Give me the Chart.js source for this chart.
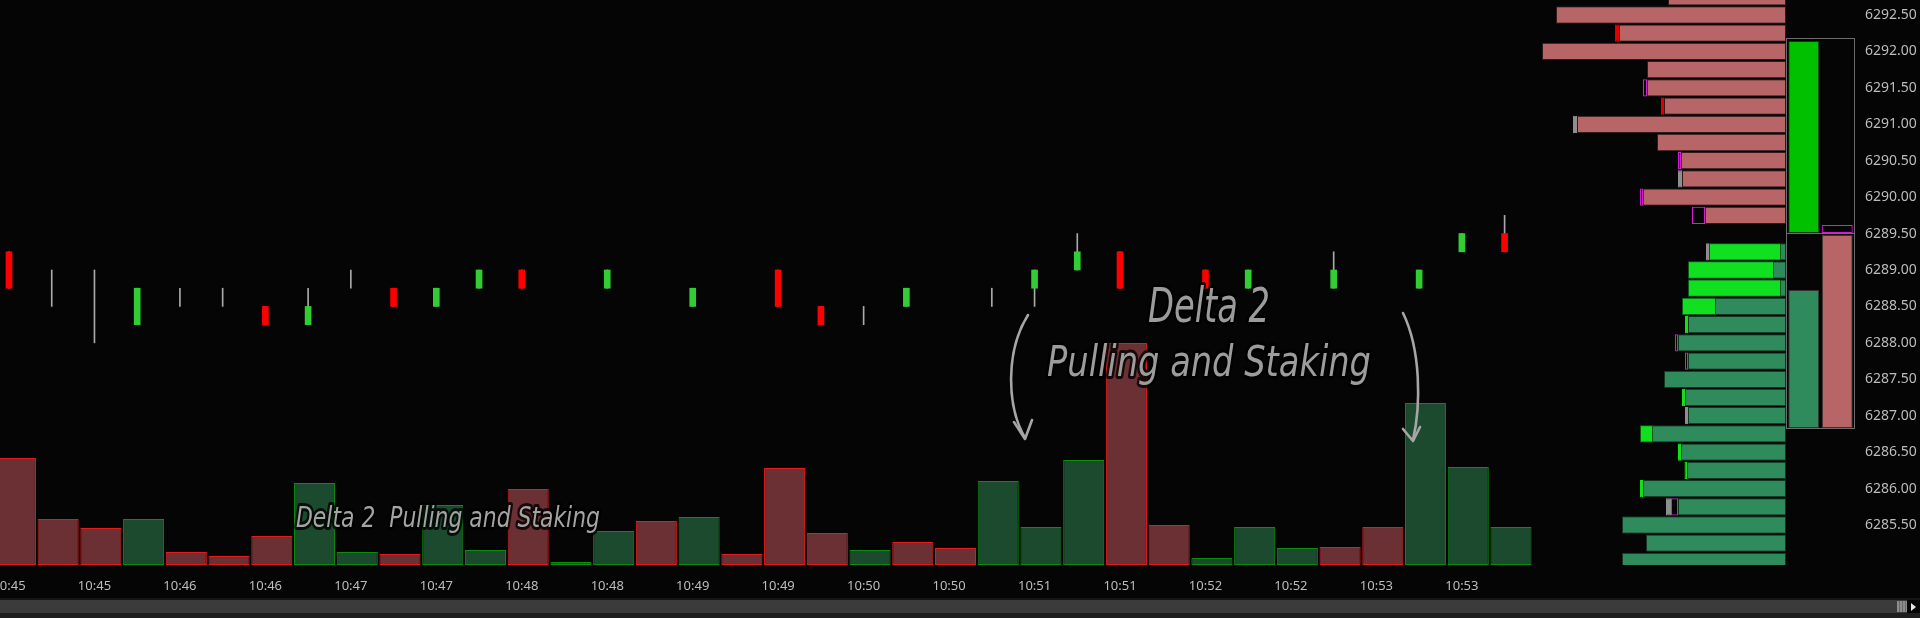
<!DOCTYPE html>
<html>
<head>
<meta charset="utf-8">
<script src="https://cdn.jsdelivr.net/npm/chart.js@4.4.1/dist/chart.umd.min.js"></script>
<style>
  html, body { margin: 0; padding: 0; background: #050505; }
  body { width: 1920px; height: 618px; position: relative; overflow: hidden; }
  canvas, .layer { position: absolute; display: block; }
  #main { left: 0; top: 0; }
  #profile { left: 1500px; top: 0; }
  #boxTop { left: 1787px; top: 39px; }
  #boxBottom { left: 1787px; top: 234px; }
  .note text { font-family: 'DejaVu Sans', sans-serif; font-style: italic; font-weight: 200;
               paint-order: stroke; stroke: rgba(0,0,0,0.8); stroke-width: 6px; stroke-linejoin: round;
               white-space: pre; }
</style>
</head>
<body>
<canvas id="main" width="1920" height="598"></canvas>
<canvas id="profile" width="286" height="565"></canvas>
<canvas id="boxTop" width="67" height="194"></canvas>
<canvas id="boxBottom" width="67" height="194"></canvas>
<div class="layer" style="left:1786px;top:38px;width:69px;height:391px;border:1px solid #6c6c6c;box-sizing:border-box"></div>
<div class="layer" style="left:1786px;top:233px;width:69px;height:1px;background:#6c6c6c"></div>

<svg class="layer" style="left:0;top:0" width="1920" height="618" xmlns="http://www.w3.org/2000/svg">
  <g fill="none" stroke="#a6a6a6" stroke-width="2.6" stroke-linecap="round" stroke-linejoin="round">
    <path d="M1028 315 C1006 350 1006 405 1025 438"/>
    <path d="M1014 422 L1025 439 L1032 420"/>
    <path d="M1403 313 C1421 350 1421 405 1413 440"/>
    <path d="M1403 429 L1413 441 L1420 427"/>
  </g>
  <g class="note">
    <text x="296" y="527" font-size="29" fill="#a4a4a4" textLength="304" lengthAdjust="spacingAndGlyphs">Delta 2  Pulling and Staking</text>
    <text x="1148" y="322" font-size="48" fill="#9c9c9c" textLength="122" lengthAdjust="spacingAndGlyphs">Delta 2</text>
    <text x="1047" y="376" font-size="42" fill="#9c9c9c" textLength="324" lengthAdjust="spacingAndGlyphs">Pulling and Staking</text>
  </g>
</svg>

<!-- horizontal scroll bar -->
<div class="layer" style="left:0;top:598px;width:1920px;height:2px;background:#151515"></div>
<div class="layer" style="left:0;top:600px;width:1920px;height:13px;background:#3b3b3b"></div>
<div class="layer" style="left:0;top:613px;width:1920px;height:5px;background:#1e1e1e"></div>
<div class="layer" style="left:1897px;top:601px;width:10px;height:11px;background:repeating-linear-gradient(90deg,#8c8c8c 0 2px,#666 2px 3px)"></div>
<div class="layer" style="left:1907px;top:600px;width:13px;height:13px;background:#050505"></div>
<div class="layer" style="left:1911px;top:603px;width:0;height:0;border-top:4px solid transparent;border-bottom:4px solid transparent;border-left:5px solid #e6e6e6"></div>

<script>
// bar times (one label every second bar)
var timeLabels = ['10:45', '10:45', '10:46', '10:46', '10:47', '10:47', '10:48', '10:48', '10:49',
                  '10:49', '10:50', '10:50', '10:51', '10:51', '10:52', '10:52', '10:53', '10:53'];
var priceTicks = [6292.50, 6292.00, 6291.50, 6291.00, 6290.50, 6290.00, 6289.50, 6289.00,
                  6288.50, 6288.00, 6287.50, 6287.00, 6286.50, 6286.00, 6285.50];

// candles (null = no candle drawn)
var candleOpen  = [6289.25, 6288.75, 6288.50, 6288.25, 6288.50, 6288.50, 6288.50, 6288.25, 6289.00, 6288.75, 6288.50, 6288.75,
                   6289.00, null, 6288.75, null, 6288.50, null, 6289.00, 6288.50, 6288.50, 6288.50, null, 6288.75,
                   6288.75, 6289.00, 6289.25, null, 6289.00, 6288.75, null, 6288.75, null, 6288.75, 6289.25, 6289.50];
var candleHigh  = [6289.25, 6289.00, 6289.00, 6288.75, 6288.75, 6288.75, 6288.50, 6288.75, 6289.00, 6288.75, 6288.75, 6289.00,
                   6289.00, null, 6289.00, null, 6288.75, null, 6289.00, 6288.50, 6288.50, 6288.75, null, 6288.75,
                   6289.00, 6289.50, 6289.25, null, 6289.00, 6289.00, null, 6289.25, null, 6289.00, 6289.50, 6289.75];
var candleLow   = [6288.75, 6288.50, 6288.00, 6288.25, 6288.50, 6288.50, 6288.25, 6288.25, 6288.75, 6288.50, 6288.50, 6288.75,
                   6288.75, null, 6288.75, null, 6288.50, null, 6288.50, 6288.25, 6288.25, 6288.50, null, 6288.50,
                   6288.50, 6289.00, 6288.75, null, 6288.75, 6288.75, null, 6288.75, null, 6288.75, 6289.25, 6289.25];
var candleClose = [6288.75, 6288.75, 6288.50, 6288.75, 6288.50, 6288.50, 6288.25, 6288.50, 6289.00, 6288.50, 6288.75, 6289.00,
                   6288.75, null, 6289.00, null, 6288.75, null, 6288.50, 6288.25, 6288.50, 6288.75, null, 6288.75,
                   6289.00, 6289.25, 6288.75, null, 6288.75, 6289.00, null, 6289.00, null, 6289.00, 6289.50, 6289.25];

// volume bars under the candles
var volume  = [107, 46, 37, 46, 13, 9, 29, 82, 13, 11, 60, 15, 76, 3, 34, 44, 48, 11,
               97, 32, 15, 23, 17, 84, 38, 105, 222, 40, 7, 38, 17, 18, 38, 162, 98, 38];
var volSide = ['sell', 'sell', 'sell', 'buy', 'sell', 'sell', 'sell', 'buy', 'buy', 'sell', 'buy', 'buy',
               'sell', 'buy', 'buy', 'sell', 'buy', 'sell', 'sell', 'sell', 'buy', 'sell', 'sell', 'buy',
               'buy', 'buy', 'sell', 'sell', 'buy', 'buy', 'buy', 'sell', 'sell', 'buy', 'buy', 'buy'];

// volume profile on the right
var profilePrice = [6292.75, 6292.50, 6292.25, 6292.00, 6291.75, 6291.50, 6291.25, 6291.00, 6290.75, 6290.50, 6290.25,
                    6290.00, 6289.75, 6289.50, 6289.25, 6289.00, 6288.75, 6288.50, 6288.25, 6288.00, 6287.75, 6287.50,
                    6287.25, 6287.00, 6286.75, 6286.50, 6286.25, 6286.00, 6285.75, 6285.50, 6285.25, 6285.00];
var profileTotal = [118, 230, 167, 244, 139, 139, 122, 209, 129, 105, 104, 143, 81, 0, 77, 98,
                    98, 104, 98, 108, 98, 122, 101, 98, 146, 105, 99, 143, 108, 164, 140, 164];
var profileHot   = [0, 0, 0, 0, 0, 0, 0, 0, 0, 0, 0, 0, 0, 0, 72, 86,
                    93, 34, 0, 0, 0, 0, 0, 0, 13, 0, 0, 0, 0, 0, 0, 0];
var markSize     = [0, 0, 4, 0, 0, 4, 3, 4, 0, 3, 4, 3, 13, 0, 3, 0,
                    0, 0, 3, 3, 3, 0, 3, 3, 0, 3, 2.5, 3, 7, 0, 0, 0];
var markKind     = ['', '', 'pull', '', '', 'big', 'pull', 'flat', '', 'big', 'flat', 'big', 'big', '', 'flat', '',
                    '', '', 'stack', 'big', 'big', '', 'stack', 'flat', '', 'stack', 'stack', 'stack', 'big', '', '', ''];
var outerSize    = [0, 0, 0, 0, 0, 0, 0, 0, 0, 0, 0, 0, 0, 0, 0, 0,
                    0, 0, 0, 0, 0, 0, 0, 0, 0, 0, 0, 0, 5, 0, 0, 0];
var outerKind    = ['', '', '', '', '', '', '', '', '', '', '', '', '', '', '', '',
                    '', '', '', '', '', '', '', '', '', '', '', '', 'flat', '', '', ''];
var lastPrice = 6289.50;

// summary columns next to the profile
var boxAbove = [192, 8];
var boxBelow = [138, 193];

// view
var priceMin = 6284.951, priceMax = 6292.706;
var xMin = -0.2106, xMax = 43.2, volShift = 0.15;

var AXIS_TXT = '#bcbcbc';
var UP = '#32cd32', DOWN = '#ff0000', WICK = '#a9a9a9';
var ASK = '#b86567', BID = '#2f8b5b', HOT = '#10e020';
var markColor = { pull: '#e00000', flat: '#8e8e8e', stack: '#14e014', big: 'rgba(0,0,0,0)' };
var markLine  = { pull: '#e00000', flat: '#8e8e8e', stack: '#14e014', big: '#d21fd2' };

Chart.defaults.font.family = "'Noto Sans', sans-serif";
Chart.defaults.animation = false;

var noPlugins = { legend: { display: false }, tooltip: { enabled: false } };

// ---------- candles + volume ----------
var bodyData = [], wickData = [], volData = [];
candleOpen.forEach(function (o, i) {
    if (o === null) return;
    if (candleHigh[i] > candleLow[i]) wickData.push({ x: i, y: [candleLow[i], candleHigh[i]] });
    if (o !== candleClose[i]) bodyData.push({ x: i, y: [o, candleClose[i]] });
});
volume.forEach(function (v, i) { volData.push({ x: i, y: v }); });

new Chart(document.getElementById('main'), {
    type: 'bar',
    data: {
        datasets: [
            {
                label: 'body', data: bodyData, xAxisID: 'x', yAxisID: 'y', order: 0,
                grouped: false, barThickness: 6, borderWidth: 0,
                backgroundColor: function (c) { return c.raw && c.raw.y[1] > c.raw.y[0] ? UP : DOWN; }
            },
            {
                label: 'wick', data: wickData, xAxisID: 'x', yAxisID: 'y', order: 1,
                grouped: false, barThickness: 1, borderWidth: 0, backgroundColor: WICK
            },
            {
                label: 'volume', data: volData, xAxisID: 'xv', yAxisID: 'yv', order: 2,
                grouped: false, barPercentage: 0.96, categoryPercentage: 1, borderWidth: 1, borderSkipped: false,
                backgroundColor: function (c) { return volSide[c.raw.x] === 'buy' ? '#1c4a2e' : '#6a3033'; },
                borderColor: function (c) { return volSide[c.raw.x] === 'buy' ? '#0c8d0c' : '#e41b1b'; }
            }
        ]
    },
    options: {
        responsive: false,
        animation: false,
        layout: { padding: 0 },
        plugins: noPlugins,
        scales: {
            x: {
                type: 'linear', position: 'bottom', min: xMin, max: xMax, offset: false, bounds: 'data',
                grid: { display: false, drawTicks: false }, border: { display: false },
                ticks: {
                    autoSkip: false, maxRotation: 0, padding: 13, color: AXIS_TXT, font: { size: 13 },
                    callback: function (value, index) { return timeLabels[index]; }
                },
                afterBuildTicks: function (axis) {
                    axis.ticks = timeLabels.map(function (t, k) { return { value: k * 2 }; });
                },
                afterFit: function (axis) { axis.height = 33; axis.paddingLeft = 0; axis.paddingRight = 0; }
            },
            xv: {
                type: 'linear', display: false, min: xMin - volShift, max: xMax - volShift,
                offset: false, bounds: 'data', ticks: { includeBounds: false }
            },
            y: {
                type: 'linear', position: 'right', min: priceMin, max: priceMax, bounds: 'data',
                grid: { display: false, drawTicks: false }, border: { display: false },
                ticks: {
                    autoSkip: false, padding: 10, color: AXIS_TXT, font: { size: 14 },
                    callback: function (value) { return value.toFixed(2); }
                },
                afterBuildTicks: function (axis) {
                    axis.ticks = priceTicks.map(function (p) { return { value: p }; });
                },
                afterFit: function (axis) { axis.width = 65; axis.paddingTop = 0; axis.paddingBottom = 0; }
            },
            yv: { type: 'linear', display: false, min: 0, max: 565, bounds: 'data' }
        }
    }
});

// ---------- volume profile ----------
var sideFill = function (p) { return p > lastPrice ? ASK : BID; };
var baseData = [], hotData = [], markData = [], outerData = [];
profilePrice.forEach(function (p, i) {
    var t = profileTotal[i];
    if (t > 0) baseData.push({ y: p, x: t });
    if (profileHot[i] > 0) hotData.push({ y: p, x: [t - profileHot[i], t] });
    if (markSize[i] > 0) markData.push({ y: p, x: [t, t + markSize[i]], kind: markKind[i] });
    if (outerSize[i] > 0) outerData.push({ y: p, x: [t + markSize[i], t + markSize[i] + outerSize[i]], kind: outerKind[i] });
});

var rowOpts = { grouped: false, barPercentage: 0.95, categoryPercentage: 1, borderSkipped: false };

new Chart(document.getElementById('profile'), {
    type: 'bar',
    data: {
        datasets: [
            Object.assign({
                label: 'hot', data: hotData, order: 0, backgroundColor: HOT, borderColor: '#0b5a14', borderWidth: 1
            }, rowOpts),
            Object.assign({
                label: 'base', data: baseData, order: 1, borderWidth: 1,
                backgroundColor: function (c) { return sideFill(c.raw.y); },
                borderColor: function (c) { return c.raw.y > lastPrice ? '#2e1c1c' : '#143522'; }
            }, rowOpts),
            Object.assign({
                label: 'mark', data: markData, order: 2, borderWidth: 1,
                backgroundColor: function (c) { return markColor[c.raw.kind]; },
                borderColor: function (c) { return markLine[c.raw.kind]; }
            }, rowOpts),
            Object.assign({
                label: 'outer', data: outerData, order: 3, borderWidth: 1,
                backgroundColor: function (c) { return markColor[c.raw.kind]; },
                borderColor: function (c) { return markLine[c.raw.kind]; }
            }, rowOpts)
        ]
    },
    options: {
        indexAxis: 'y',
        responsive: false,
        animation: false,
        layout: { padding: 0 },
        plugins: noPlugins,
        scales: {
            x: { type: 'linear', display: false, reverse: true, min: 0, max: 286, bounds: 'data', ticks: { includeBounds: false } },
            y: { type: 'linear', display: false, min: priceMin, max: priceMax, offset: false, bounds: 'data', ticks: { includeBounds: false } }
        }
    }
});

// ---------- summary columns ----------
function columnChart(id, values, fills, lines) {
    new Chart(document.getElementById(id), {
        type: 'bar',
        data: {
            labels: ['bid', 'ask'],
            datasets: [{
                data: values, backgroundColor: fills, borderColor: lines, borderWidth: 1,
                borderSkipped: false, barPercentage: 0.925, categoryPercentage: 1
            }]
        },
        options: {
            responsive: false,
            animation: false,
            layout: { padding: 0 },
            plugins: noPlugins,
            scales: {
                x: { display: false },
                y: { display: false, min: 0, max: 194, bounds: 'data' }
            }
        }
    });
}
columnChart('boxTop', boxAbove, ['#00c000', 'rgba(0,0,0,0)'], ['#0a3a0a', '#d21fd2']);
columnChart('boxBottom', boxBelow, [BID, ASK], ['#333333', '#333333']);
</script>
</body>
</html>
